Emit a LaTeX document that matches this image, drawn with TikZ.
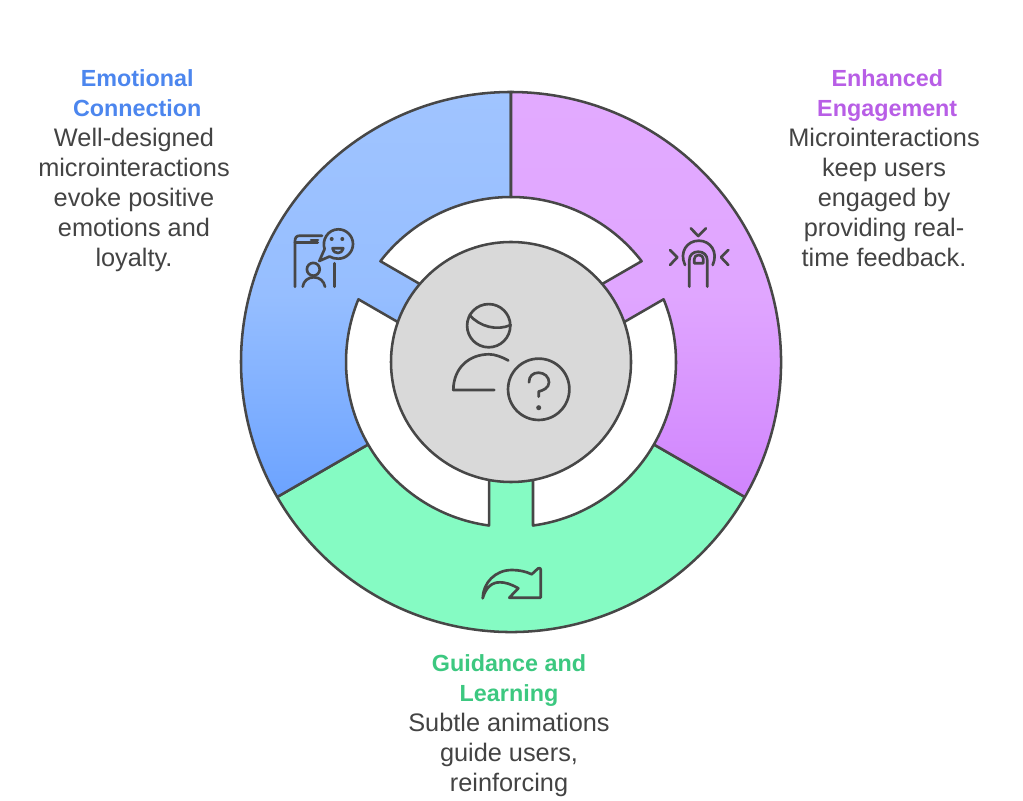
\documentclass[tikz,border=0pt]{standalone}
\usepackage{fontspec}
\setmainfont{Liberation Sans}
\definecolor{ink}{HTML}{474747}
\definecolor{bodytext}{HTML}{434343}
\definecolor{bluehead}{HTML}{4C86EE}
\definecolor{purplehead}{HTML}{B85EE6}
\definecolor{greenhead}{HTML}{3CC880}
\newcommand{\hd}[2]{\textcolor{#1}{\fontsize{17.5}{22.5}\selectfont\bfseries #2}}
\tikzset{
  ringline/.style={draw=ink,line width=1.9pt,line join=round},
  iconline/.style={draw=ink,line width=2pt,line cap=round,line join=round},
  textblock/.style={align=center,inner sep=0pt,anchor=north,font=\fontsize{19}{22.5}\selectfont,text=bodytext},
}
\newcommand{\ringseg}[2]{%
  \path[ringline,#2]
    ({#1-60}:202.5pt) arc[start angle={#1-60},end angle={#1+60},radius=202.5pt]
    -- ({#1+60}:123.75pt) arc[start angle={#1+60},end angle={#1+7.66},radius=123.75pt]
    -- ({#1+10.56}:90pt) -- ({#1-10.56}:90pt) -- ({#1-7.66}:123.75pt)
    arc[start angle={#1-7.66},end angle={#1-60},radius=123.75pt] -- cycle;}
\begin{document}
\begin{tikzpicture}
\useasboundingbox (0,0) rectangle (767.25pt,600pt);
\begin{scope}[shift={(383.25pt,328.5pt)}]
  \ringseg{270}{fill={rgb,255:red,133;green,251;blue,195}}
  \ringseg{150}{top color={rgb,255:red,160;green,196;blue,255},bottom color={rgb,255:red,108;green,163;blue,255},middle color={rgb,255:red,150;green,190;blue,255}}
  \ringseg{30}{top color={rgb,255:red,226;green,170;blue,255},bottom color={rgb,255:red,208;green,132;blue,253},middle color={rgb,255:red,224;green,166;blue,255}}
  \node[ringline,circle,fill={rgb,255:red,217;green,217;blue,217},minimum size=180pt,inner sep=0pt] (hub) at (0,0) {};
\end{scope}
\begin{scope}[x=.75pt,y=-.75pt,shift={(0pt,600pt)}]
  % centre icon
  \draw[iconline] (488.7,325.7) circle[radius=16.2pt];
  \draw[iconline] (469.5,315) .. controls (480,327) and (497,331) .. (510.7,325);
  \draw[iconline] (494.3,390) -- (453.3,390) .. controls (453.5,367) and (470,354.3) .. (489,354.3) .. controls (495,354.3) and (502,357) .. (508.3,360.5);
  \draw[iconline] (538.7,389.3) circle[radius=23pt];
  \draw[iconline] (529,382.3) .. controls (529,376) and (533,372.7) .. (538.5,372.7) .. controls (544.5,372.7) and (549,377) .. (549,382.3) .. controls (549,388) and (543,390.5) .. (538.7,391.5) -- (538.7,396.7);
  \fill[ink] (538.7,407.7) circle[radius=1.9pt];
  % blue icon
  \draw[iconline] (295,286.7) -- (295,241) .. controls (295,237.5) and (296.5,235.7) .. (300,235.7) -- (322,235.7);
  \draw[iconline] (295,242.7) -- (317.7,242.7);
  \draw[iconline] (311,240) -- (318,240);
  \draw[iconline] (324.6,249) .. controls (321.5,240) and (328,229.3) .. (338.3,229.3) .. controls (346.5,229.3) and (353,236) .. (353,244) .. controls (353,252) and (346.5,258.7) .. (338.3,258.7) .. controls (335,258.7) and (332,258) .. (329.5,256.5) -- (319.3,261) -- (324.6,249);
  \fill[ink] (331.7,239) circle[radius=1.5pt] (342.3,239) circle[radius=1.5pt];
  \draw[iconline] (332.5,248.3) -- (343.3,248.3) .. controls (342,252) and (340,253) .. (338,253) .. controls (335.5,253) and (333.5,252) .. (332.5,248.3) -- cycle;
  \draw[iconline] (313.3,269.3) circle[radius=4.8pt];
  \draw[iconline] (302.7,286.7) .. controls (303.5,281) and (308,277.3) .. (313.8,277.3) .. controls (319.5,277.3) and (324,281) .. (325,286.7);
  \draw[iconline] (334.3,263.3) -- (334.3,286.7);
  % purple icon
  \draw[iconline] (690.7,228.3) -- (698.3,236) -- (706,228.3);
  \draw[iconline] (670,250) -- (677.3,257.3) -- (670,265);
  \draw[iconline] (728.3,250) -- (721,257.3) -- (728.3,265);
  \draw[iconline] (685,265) .. controls (679,252) and (687,240.7) .. (698.8,240.7) .. controls (710.5,240.7) and (718.5,252) .. (712.7,265);
  \draw[iconline] (689.3,286.7) -- (689.3,260.5) .. controls (689.3,255) and (693,251.7) .. (698.3,251.7) .. controls (703.5,251.7) and (707.3,255) .. (707.3,260.5) -- (707.3,286.7);
  \draw[iconline] (694.3,263.3) -- (694.3,259) .. controls (694.3,256.5) and (696,255) .. (698.8,255) .. controls (701.5,255) and (703.3,256.5) .. (703.3,259) -- (703.3,263.3) -- cycle;
  % green icon
  \draw[iconline] (482.7,598.3) .. controls (483,583) and (495,570) .. (512,570) .. controls (519,570) and (526,571.5) .. (531.7,574.3) -- (538,568.5) .. controls (539.5,567.5) and (540.7,568) .. (540.7,569.5) -- (540.7,597.7) -- (509.3,597.7) -- (518.3,588.3) .. controls (511,584) and (505,582.3) .. (500,582.3) .. controls (492,582.3) and (486,587) .. (482.7,598.3) -- cycle;
  % text blocks
  \node[textblock] (emo) at (134,69) {\hd{bluehead}{\ Emotional}\\\hd{bluehead}{\ Connection}\\Well-designed\\microinteractions\\evoke positive\\emotions and\\loyalty.};
  \node[textblock] (eng) at (884,69) {\hd{purplehead}{\ Enhanced}\\\hd{purplehead}{\ Engagement}\\Microinteractions\\keep users\\engaged by\\providing real-\\time feedback.};
  \node[textblock] (gui) at (509,654) {\hd{greenhead}{Guidance and}\\\hd{greenhead}{Learning}\\Subtle animations\\guide users,\\reinforcing};
\end{scope}
\end{tikzpicture}
\end{document}
